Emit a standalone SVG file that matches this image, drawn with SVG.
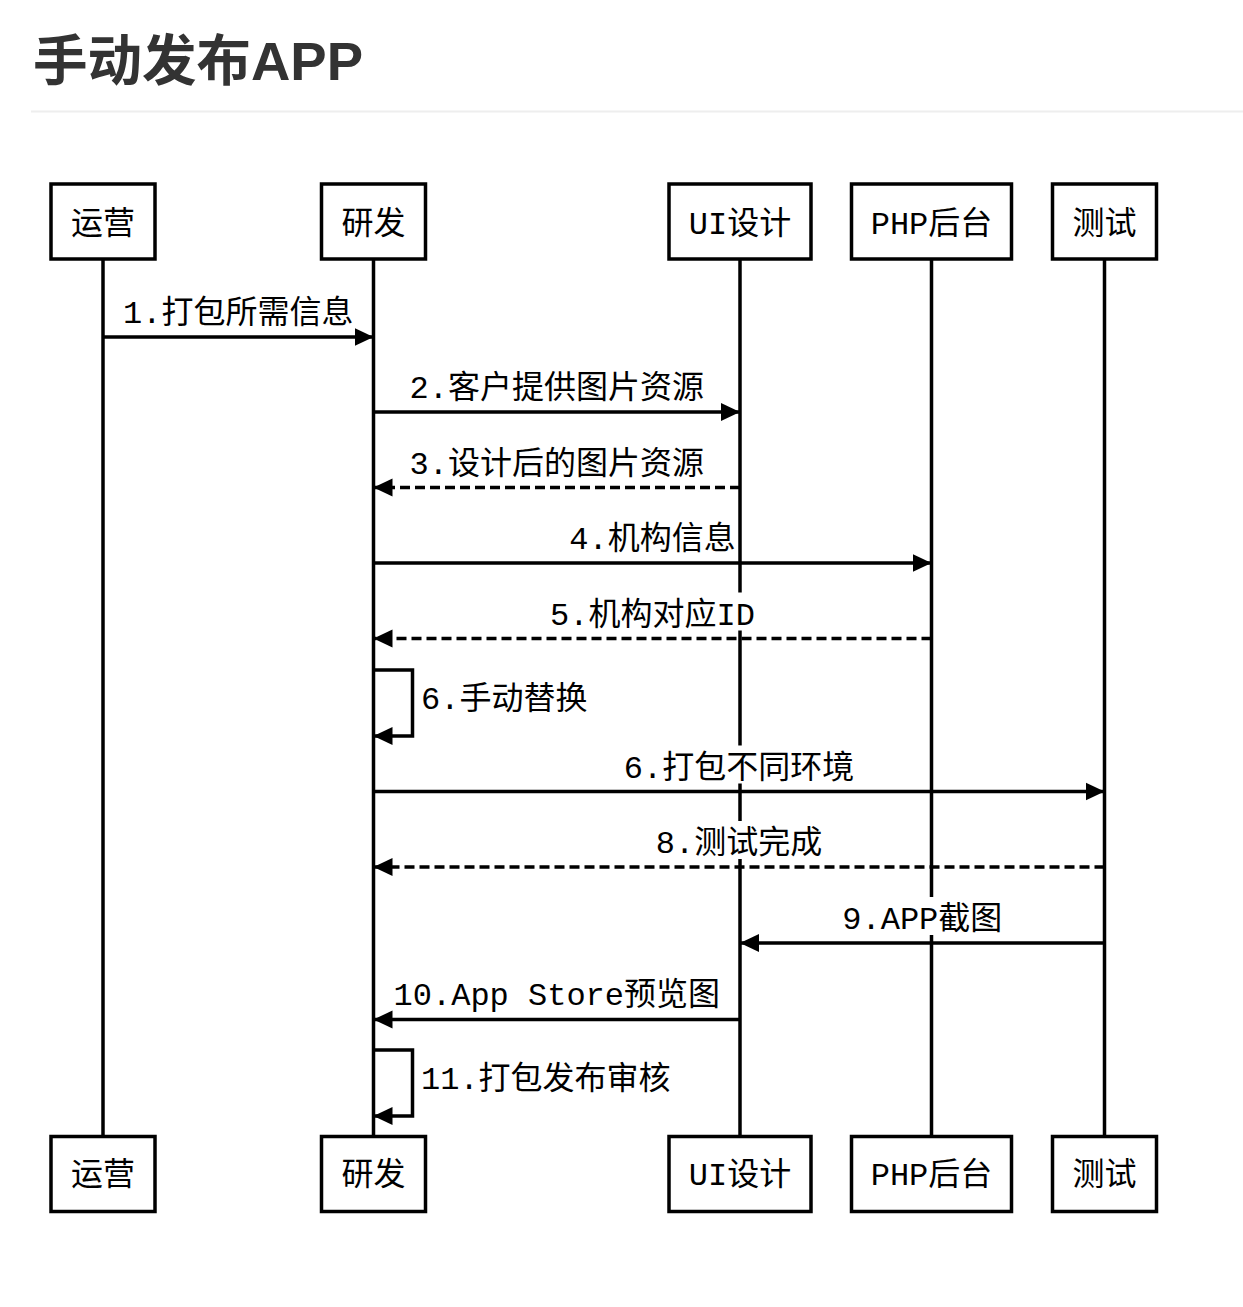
<svg xmlns="http://www.w3.org/2000/svg" width="1243" height="1307" viewBox="0 0 1243 1307">
<style>
.box{fill:#fff;stroke:#000;stroke-width:3.5}
.life{stroke:#000;stroke-width:3.5;fill:none}
.msg{stroke:#000;stroke-width:3.5;fill:none;marker-end:url(#arr)}
.dash{stroke-dasharray:10,5}
.t{font-family:"Liberation Mono","Noto Sans CJK SC",monospace;font-size:32px;fill:#000}
.c{text-anchor:middle}
.bg{fill:#fff}
</style>
<defs>
<marker id="arr" markerUnits="userSpaceOnUse" markerWidth="20" markerHeight="20" viewBox="0 0 20 20" refX="19" refY="10" orient="auto">
<path d="M0,1 L19,10 L0,19 z" fill="#000"/>
</marker>
</defs>
<rect width="1243" height="1307" fill="#fff"/>
<text x="33" y="80" font-family="'Liberation Sans','Noto Sans CJK SC',sans-serif" font-size="54.5" font-weight="bold" fill="#333">手动发布APP</text>
<line x1="31" y1="111.5" x2="1243" y2="111.5" stroke="#eeeeee" stroke-width="2"/>

<g id="lifelines">
<line class="life" x1="103" y1="259" x2="103" y2="1136.5"/>
<line class="life" x1="373.5" y1="259" x2="373.5" y2="1136.5"/>
<line class="life" x1="740" y1="259" x2="740" y2="1136.5"/>
<line class="life" x1="931.5" y1="259" x2="931.5" y2="1136.5"/>
<line class="life" x1="1104.5" y1="259" x2="1104.5" y2="1136.5"/>
</g>

<g id="node-yunying">
<rect class="box" x="51" y="184" width="104" height="75"/>
<text class="t c" x="103" y="233.5">运营</text>
<rect class="box" x="51" y="1136.5" width="104" height="75"/>
<text class="t c" x="103" y="1185">运营</text>
</g>
<g id="node-yanfa">
<rect class="box" x="321.5" y="184" width="104" height="75"/>
<text class="t c" x="373.5" y="233.5">研发</text>
<rect class="box" x="321.5" y="1136.5" width="104" height="75"/>
<text class="t c" x="373.5" y="1185">研发</text>
</g>
<g id="node-ui">
<rect class="box" x="669" y="184" width="142" height="75"/>
<text class="t c" x="740" y="233.5">UI设计</text>
<rect class="box" x="669" y="1136.5" width="142" height="75"/>
<text class="t c" x="740" y="1185">UI设计</text>
</g>
<g id="node-php">
<rect class="box" x="851.5" y="184" width="160" height="75"/>
<text class="t c" x="931.5" y="233.5">PHP后台</text>
<rect class="box" x="851.5" y="1136.5" width="160" height="75"/>
<text class="t c" x="931.5" y="1185">PHP后台</text>
</g>
<g id="node-test">
<rect class="box" x="1052.5" y="184" width="104" height="75"/>
<text class="t c" x="1104.5" y="233.5">测试</text>
<rect class="box" x="1052.5" y="1136.5" width="104" height="75"/>
<text class="t c" x="1104.5" y="1185">测试</text>
</g>

<g id="connectors">
<line class="msg" x1="103" y1="337" x2="373.5" y2="337"/>
<text class="t c" x="238.3" y="323">1.打包所需信息</text>

<line class="msg" x1="373.5" y1="412" x2="740" y2="412"/>
<text class="t c" x="556.8" y="398">2.客户提供图片资源</text>

<line class="msg dash" x1="740" y1="487.5" x2="373.5" y2="487.5"/>
<text class="t c" x="556.8" y="473.5">3.设计后的图片资源</text>

<line class="msg" x1="373.5" y1="563" x2="931.5" y2="563"/>
<text class="t c" x="652.5" y="549">4.机构信息</text>

<line class="msg dash" x1="931.5" y1="638.5" x2="373.5" y2="638.5"/>
<rect class="bg" x="550" y="592.5" width="205" height="38"/>
<text class="t c" x="652.5" y="624.5">5.机构对应ID</text>

<path class="msg" d="M373.5,670 H412.5 V736 H373.5"/>
<text class="t" x="421" y="709">6.手动替换</text>

<line class="msg" x1="373.5" y1="791.5" x2="1104.5" y2="791.5"/>
<rect class="bg" x="624" y="745.5" width="230" height="38"/>
<text class="t c" x="739" y="777.5">6.打包不同环境</text>

<line class="msg dash" x1="1104.5" y1="867" x2="373.5" y2="867"/>
<rect class="bg" x="656" y="821" width="166" height="38"/>
<text class="t c" x="739" y="853">8.测试完成</text>

<line class="msg" x1="1104.5" y1="943" x2="740" y2="943"/>
<rect class="bg" x="842" y="897" width="160" height="38"/>
<text class="t c" x="922.3" y="929">9.APP截图</text>

<line class="msg" x1="740" y1="1019.5" x2="373.5" y2="1019.5"/>
<text class="t c" x="556.8" y="1005">10.App Store预览图</text>

<path class="msg" d="M373.5,1050 H412.5 V1116 H373.5"/>
<text class="t" x="421" y="1089">11.打包发布审核</text>
</g>
</svg>
